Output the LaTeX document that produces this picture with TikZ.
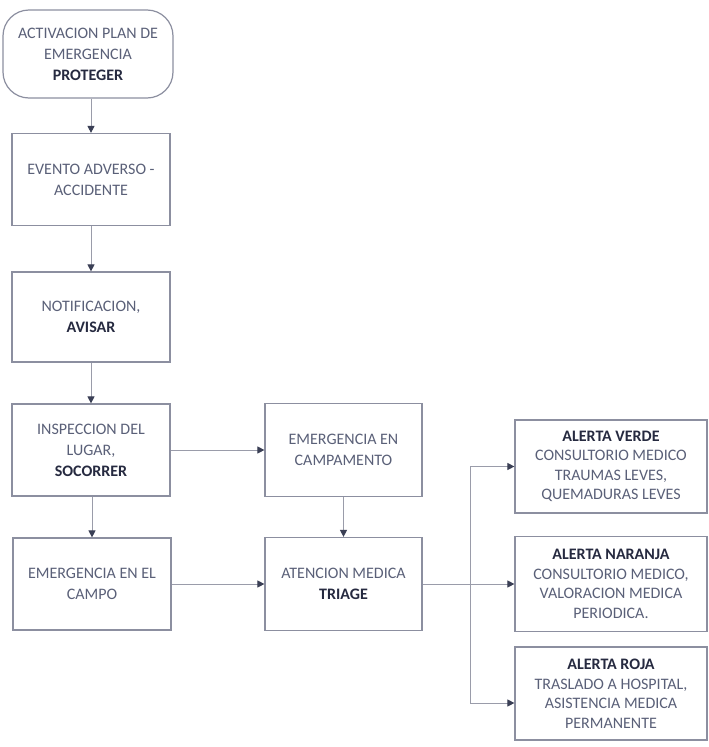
\documentclass[tikz,border=0pt]{standalone}
\usepackage{fontspec}
\setmainfont{Carlito}
\usetikzlibrary{arrows.meta,calc}
\definecolor{bordc}{HTML}{8C8FA0}
\definecolor{linec}{HTML}{9A9CAA}
\definecolor{tipc}{HTML}{3A3F55}
\definecolor{txtc}{HTML}{5A6078}
\definecolor{boldc}{HTML}{262A40}
\tikzset{
  box/.style={draw=bordc, line width=1.2pt, fill=white, align=center, text=txtc,
    font=\fontsize{16}{21}\selectfont, inner sep=1pt},
  term/.style={box, rounded corners=26pt, minimum width=170pt, minimum height=88pt},
  lbox/.style={box, minimum width=158pt, minimum height=92pt},
  rbox/.style={box, minimum width=192pt, minimum height=93pt, font=\fontsize{16}{19.5}\selectfont},
  conn/.style={draw=linec, line width=1pt},
  arr/.style={conn, -{Triangle[length=7pt,width=7pt,fill=tipc,color=tipc]}},
}
\newcommand{\bt}[1]{{\bfseries\color{boldc}#1}}
\begin{document}
\begin{tikzpicture}[x=1pt,y=-1pt]
\useasboundingbox[fill=white] (0,0) rectangle (709,747);
\node[term] (start) at (88,54) {ACTIVACION PLAN DE\\EMERGENCIA\\\bt{PROTEGER}};
\node[lbox] (evento) at (91,179.5) {EVENTO ADVERSO -\\ACCIDENTE};
\node[lbox, minimum height=90pt] (notif) at (91,317) {NOTIFICACION,\\\bt{AVISAR}};
\node[lbox] (inspec) at (91,450) {INSPECCION DEL\\LUGAR,\\\bt{SOCORRER}};
\node[lbox] (campo) at (92,584) {EMERGENCIA EN EL\\CAMPO};
\node[lbox, minimum width=157pt, minimum height=93pt] (campam) at (343.5,450) {EMERGENCIA EN\\CAMPAMENTO};
\node[lbox, minimum width=157pt, minimum height=93pt] (triage) at (343.5,584) {ATENCION MEDICA\\\bt{TRIAGE}};
\node[rbox] (verde) at (611,466.5) {\bt{ALERTA VERDE}\\CONSULTORIO MEDICO\\TRAUMAS LEVES,\\QUEMADURAS LEVES};
\node[rbox, minimum height=95pt] (naranja) at (611,584) {\bt{ALERTA NARANJA}\\CONSULTORIO MEDICO,\\VALORACION MEDICA\\PERIODICA.};
\node[rbox] (roja) at (611,693.5) {\bt{ALERTA ROJA}\\TRASLADO A HOSPITAL,\\ASISTENCIA MEDICA\\PERMANENTE};
\coordinate (jv) at (470,466.5);
\coordinate (jr) at (470,703);
\coordinate (jm) at (470,584);
\draw[arr] (start.south -| evento.north) -- (evento.north);
\draw[arr] (evento) -- (notif);
\draw[arr] (notif) -- (inspec);
\draw[arr] (inspec.south -| campo.north) -- (campo.north);
\draw[arr] (inspec.east) -- (campam.west);
\draw[arr] (campam) -- (triage);
\draw[arr] (campo.east) -- (triage.west);
\draw[conn] (triage.east) -- (jm);
\draw[conn] (jv) -- (jr);
\draw[arr] (jv) -- (verde.west);
\draw[arr] (jm) -- (naranja.west);
\draw[arr] (jr) -- (jr -| roja.west);
\end{tikzpicture}
\end{document}
